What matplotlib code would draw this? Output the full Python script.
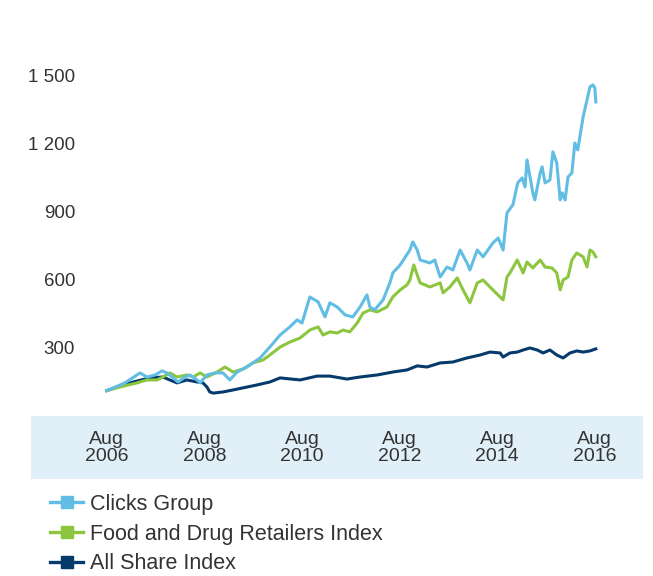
# Clicks Group vs retail and market indices, rebased, Aug 2006 - Aug 2016
import matplotlib
matplotlib.use("Agg")
import matplotlib.pyplot as plt
from matplotlib.patches import Rectangle
from matplotlib.ticker import FuncFormatter

# dates as decimal years
clicks_t = [2006.58, 2006.95, 2007.26, 2007.40, 2007.57, 2007.71, 2007.81, 2007.92, 2008.04, 2008.18,
            2008.28, 2008.43, 2008.49, 2008.63, 2008.80, 2008.96, 2009.10, 2009.25, 2009.45, 2009.72,
            2009.92, 2010.13, 2010.33, 2010.48, 2010.58, 2010.74, 2010.91, 2011.05, 2011.15, 2011.30,
            2011.46, 2011.62, 2011.77, 2011.91, 2011.97, 2012.07, 2012.24, 2012.38, 2012.44, 2012.59,
            2012.79, 2012.85, 2012.94, 2013.00, 2013.20, 2013.30, 2013.41, 2013.55, 2013.67, 2013.82,
            2013.96, 2014.02, 2014.17, 2014.29, 2014.49, 2014.60, 2014.70, 2014.78, 2014.90, 2015.00,
            2015.09, 2015.15, 2015.19, 2015.31, 2015.35, 2015.46, 2015.50, 2015.56, 2015.66, 2015.72,
            2015.80, 2015.87, 2015.91, 2015.97, 2016.03, 2016.11, 2016.17, 2016.23, 2016.34, 2016.42,
            2016.48, 2016.54, 2016.58, 2016.60]
clicks_v = [112, 146, 190, 172, 181, 199, 190, 172, 150, 172,
            181, 159, 146, 181, 190, 190, 159, 194, 216, 256,
            304, 357, 393, 424, 410, 525, 503, 437, 499, 481,
            446, 437, 481, 534, 481, 468, 512, 587, 631, 666,
            732, 768, 732, 688, 675, 688, 613, 657, 644, 732,
            675, 644, 732, 702, 763, 785, 732, 896, 931, 1028,
            1050, 1010, 1129, 984, 953, 1072, 1099, 1028, 1041, 1165,
            1116, 953, 984, 953, 1054, 1072, 1204, 1174, 1319, 1394,
            1452, 1460, 1447, 1385]

food_t = [2006.58, 2006.85, 2007.20, 2007.40, 2007.61, 2007.73, 2007.87, 2008.02, 2008.22, 2008.35,
          2008.49, 2008.63, 2008.84, 2009.00, 2009.17, 2009.37, 2009.57, 2009.78, 2009.92, 2010.13,
          2010.33, 2010.54, 2010.74, 2010.91, 2011.01, 2011.15, 2011.30, 2011.42, 2011.56, 2011.71,
          2011.83, 2011.97, 2012.12, 2012.32, 2012.44, 2012.59, 2012.73, 2012.79, 2012.87, 2012.94,
          2013.00, 2013.20, 2013.41, 2013.47, 2013.61, 2013.76, 2013.88, 2014.02, 2014.17, 2014.29,
          2014.49, 2014.70, 2014.78, 2014.84, 2014.99, 2015.11, 2015.19, 2015.31, 2015.46, 2015.56,
          2015.70, 2015.80, 2015.87, 2015.93, 2016.03, 2016.11, 2016.21, 2016.34, 2016.42, 2016.48,
          2016.54, 2016.60]
food_v = [112, 128, 146, 159, 159, 172, 190, 172, 181, 172,
          190, 172, 194, 216, 194, 207, 234, 247, 269, 304,
          326, 344, 379, 393, 357, 371, 366, 379, 371, 410,
          454, 468, 459, 481, 525, 556, 578, 600, 666, 622,
          587, 569, 587, 543, 569, 609, 556, 499, 587, 600,
          556, 512, 613, 631, 688, 631, 679, 653, 688, 657,
          653, 631, 556, 600, 613, 688, 719, 702, 657, 732,
          724, 702]

alsi_t = [2006.58, 2006.79, 2007.12, 2007.46, 2007.73, 2007.87, 2008.02, 2008.22, 2008.43, 2008.55,
          2008.63, 2008.69, 2008.76, 2008.96, 2009.17, 2009.37, 2009.66, 2009.92, 2010.13, 2010.54,
          2010.89, 2011.15, 2011.50, 2011.77, 2012.12, 2012.44, 2012.73, 2012.94, 2013.14, 2013.41,
          2013.67, 2013.96, 2014.23, 2014.43, 2014.64, 2014.70, 2014.84, 2014.99, 2015.11, 2015.25,
          2015.40, 2015.52, 2015.66, 2015.80, 2015.93, 2016.07, 2016.21, 2016.34, 2016.48, 2016.60]
alsi_v = [112, 128, 150, 168, 172, 159, 146, 159, 150, 146,
          128, 106, 101, 106, 115, 124, 137, 150, 168, 159,
          176, 176, 163, 172, 181, 194, 203, 221, 216, 234,
          238, 256, 269, 282, 278, 260, 278, 282, 291, 300,
          291, 278, 291, 269, 256, 278, 287, 282, 287, 296]

x_ticks = [2006.58, 2008.58, 2010.58, 2012.58, 2014.58, 2016.58]
x_labels = ["Aug\n2006", "Aug\n2008", "Aug\n2010", "Aug\n2012", "Aug\n2014", "Aug\n2016"]
y_ticks = [300, 600, 900, 1200, 1500]

plt.rcParams['font.family'] = ['Liberation Sans', 'DejaVu Sans']
text_col = "#333333"

fig = plt.figure(figsize=(6.53, 5.76), dpi=100)
ax = fig.add_axes([31 / 653, 160 / 576, 612 / 653, 356 / 576])

ax.plot(alsi_t, alsi_v, color="#063a6b", lw=2.2, label="All Share Index", zorder=3)
ax.plot(food_t, food_v, color="#8cc63f", lw=2.2, label="Food and Drug Retailers Index", zorder=4)
ax.plot(clicks_t, clicks_v, color="#62bde4", lw=2.2, label="Clicks Group", zorder=5)

ax.set_xlim(2005.026, 2017.567)
ax.set_ylim(0, 1570)

# light blue band behind the date labels
ax.add_patch(Rectangle((0, -63 / 356), 1, 63 / 356, transform=ax.transAxes,
                       facecolor="#e1f0f8", edgecolor="none", clip_on=False, zorder=0))

ax.set_xticks(x_ticks)
ax.set_xticklabels(x_labels, fontsize=14, color=text_col, linespacing=1.0)
ax.set_yticks(y_ticks)
ax.yaxis.set_major_formatter(FuncFormatter(lambda v, p: f"{v:,.0f}".replace(",", " ")))
ax.tick_params(axis="x", length=0, pad=11)
ax.tick_params(axis="y", length=0, pad=-31.7, labelsize=13.5, labelcolor=text_col)
for s in ax.spines.values():
    s.set_visible(False)

# legend order as in the reference
h, l = ax.get_legend_handles_labels()
order = [2, 1, 0]
handles = []
for i in order:
    ln = plt.Line2D([], [], color=h[i].get_color(), lw=2.4, marker="s", markersize=8.5)
    handles.append(ln)
fig.legend(handles, [l[i] for i in order], loc="upper left",
           bbox_to_anchor=(50 / 653, 1 - 494 / 576), frameon=False,
           fontsize=15.5, handlelength=1.55, handletextpad=0.3, labelspacing=0.4,
           borderpad=0, borderaxespad=0, labelcolor=text_col)

fig.savefig("out.png", dpi=100)
